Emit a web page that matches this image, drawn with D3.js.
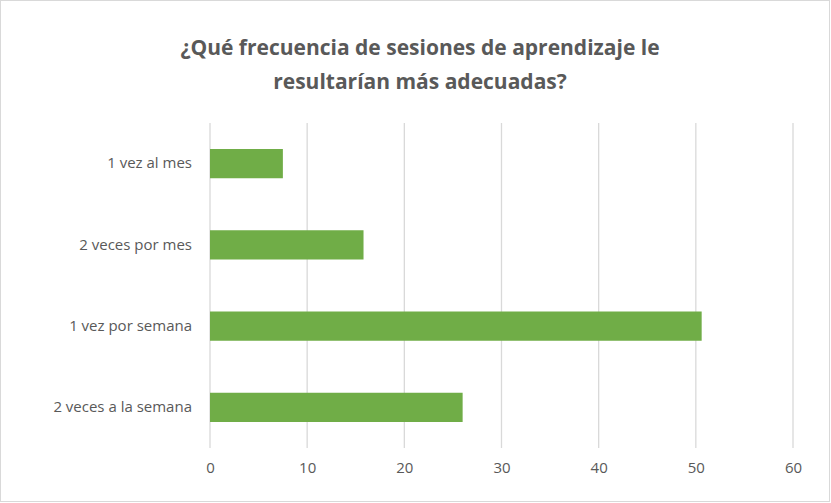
<!DOCTYPE html>
<html>
<head>
<meta charset="utf-8">
<script src="https://cdn.jsdelivr.net/npm/d3@7"></script>
<style>
  body { margin: 0; background: #fff; }
  text { font-family: "Open Sans", "Liberation Sans", sans-serif; fill: #595959; }
</style>
</head>
<body>
<svg id="chart" width="831" height="503"></svg>
<script>
// data
const categories = ["1 vez al mes", "2 veces por mes", "1 vez por semana", "2 veces a la semana"];
const values = [7.5, 15.8, 50.6, 26.0];
const ticks = [0, 10, 20, 30, 40, 50, 60];

const svg = d3.select("#chart");
svg.append("rect").attr("x", 0.5).attr("y", 0.5).attr("width", 829).attr("height", 501)
  .attr("fill", "#fff").attr("stroke", "#d9d9d9");

const margin = { left: 210, right: 38, top: 123, bottom: 55 };
const x = d3.scaleLinear().domain([0, 60]).range([margin.left, 831 - margin.right]);
const y = d3.scaleBand().domain(categories).range([margin.top, 503 - margin.bottom]).paddingInner(0.64).paddingOuter(0.32);

// gridlines
svg.append("g").selectAll("line").data(ticks).join("line")
  .attr("x1", d => x(d)).attr("x2", d => x(d))
  .attr("y1", margin.top).attr("y2", 503 - margin.bottom)
  .attr("stroke", "#d9d9d9").attr("stroke-width", 1.3);

// bars
svg.append("g").selectAll("rect").data(values).join("rect")
  .attr("x", x(0)).attr("y", (d, i) => y(categories[i]))
  .attr("width", d => x(d) - x(0)).attr("height", y.bandwidth())
  .attr("fill", "#70ad47");

// x axis
const xa = svg.append("g").attr("transform", `translate(0,${503 - margin.bottom})`)
  .call(d3.axisBottom(x).tickValues(ticks).tickSize(0).tickPadding(14));
xa.select(".domain").remove();
xa.selectAll("text").style("font-size", "15px").attr("fill", "#595959");

// y axis
const ya = svg.append("g").attr("transform", `translate(${margin.left},0)`)
  .call(d3.axisLeft(y).tickSize(0).tickPadding(18));
ya.select(".domain").remove();
ya.selectAll("text").style("font-size", "15px").attr("fill", "#595959");

// title
const title = svg.append("text").attr("text-anchor", "middle")
  .style("font-size", "21px").style("font-weight", "bold");
title.append("tspan").attr("x", 420).attr("y", 55).text("¿Qué frecuencia de sesiones de aprendizaje le");
title.append("tspan").attr("x", 420).attr("y", 89).text("resultarían más adecuadas?");
</script>
</body>
</html>
